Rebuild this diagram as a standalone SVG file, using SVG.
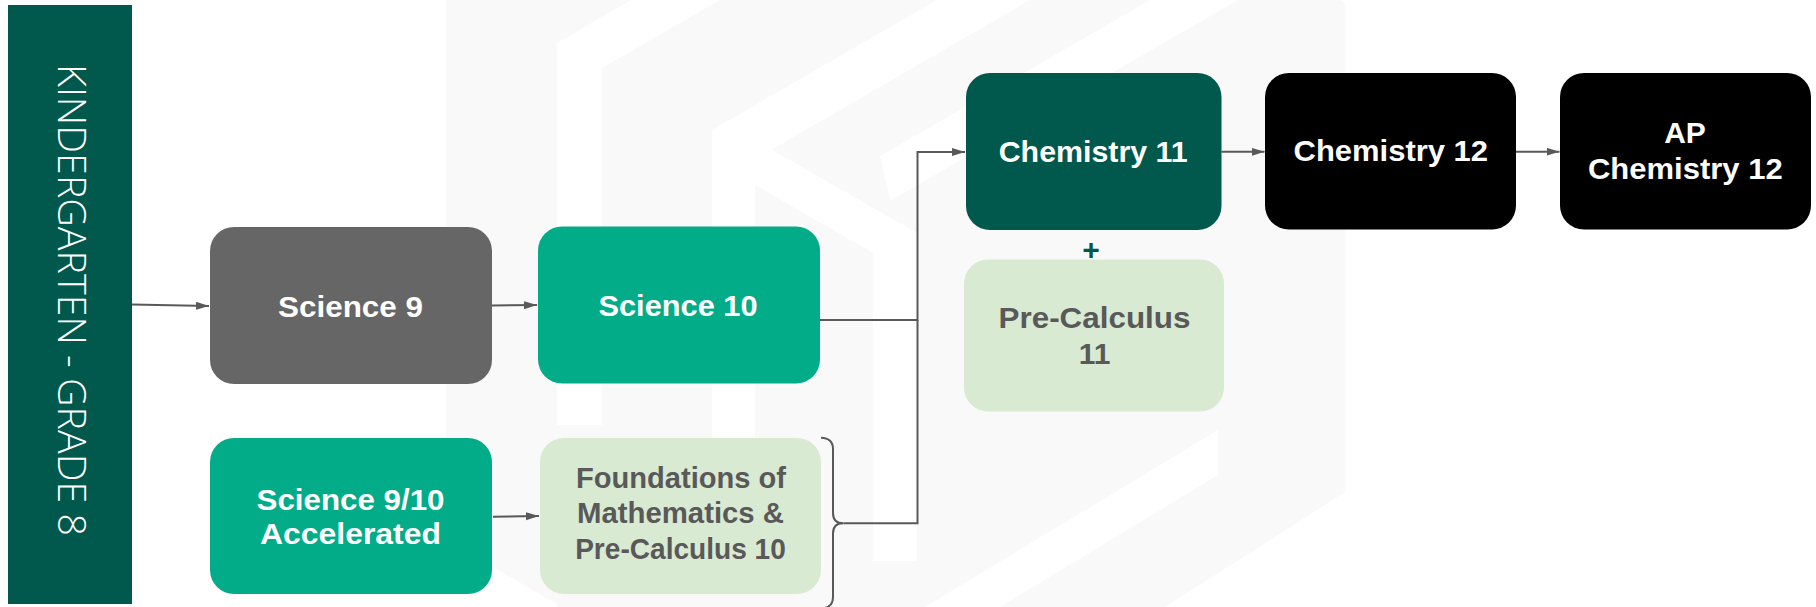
<svg xmlns="http://www.w3.org/2000/svg" width="1816" height="607" viewBox="0 0 1816 607">
<defs>
<marker id="arr" markerUnits="userSpaceOnUse" markerWidth="14" markerHeight="10" refX="13" refY="4" orient="auto">
<path d="M0,0 L13,4 L0,8 Z" fill="#595959"/>
</marker>
</defs>
<style>
.t{font-family:"Liberation Sans",Arial,sans-serif;font-weight:700;font-size:30px;text-anchor:middle}
.w{fill:#ffffff}
.g{fill:#595959}
.c{fill:none;stroke:#595959;stroke-width:2}
.wm{fill:#f9f9f9}
.wb{fill:#ffffff}
</style>
<rect width="1816" height="607" fill="#ffffff"/>
<g id="watermark">
<path class="wm" d="M446,0 H1338 Q1345,0 1345,8 V492 L1165,607 H446 Z"/>
<path class="wb" d="M557,425 V43 L631,0 H720 L602,68 V425 Z"/>
<path class="wb" d="M712,557 V130 L937,0 H1030 L783,143 L755,160 V557 Z"/>
<path class="wb" d="M755,140 L917,233 V561 H873 V253 L755,185 Z"/>
<path class="wb" d="M890,201 L1238,0 H1150 L880,156 Z"/>
<path class="wb" d="M1218,430 V475 L1000,607 H925 Z"/>
<path class="wb" d="M446,540 L557,604 V607 H446 Z"/>
</g>
<g id="bar">
<rect x="8" y="5" width="124" height="599" fill="#00594c"/>
<text transform="translate(58,300) rotate(90)" font-family="'Open Sans','Liberation Sans',sans-serif" font-weight="300" font-size="39" fill="#ffffff" text-anchor="middle" textLength="472" lengthAdjust="spacingAndGlyphs">KINDERGARTEN - GRADE 8</text>
</g>
<g id="connectors">
<path class="c" d="M132,304.5 L209,306" marker-end="url(#arr)"/>
<path class="c" d="M492,305.5 L537,305" marker-end="url(#arr)"/>
<path class="c" d="M493,516.8 L539,516" marker-end="url(#arr)"/>
<path class="c" d="M820,320 H917.5 V152 H965" marker-end="url(#arr)"/>
<path class="c" d="M843.3,523.3 H917.5 V320"/>
<path class="c" d="M821,437.7 Q833,438 833,449 V513 Q833,523.3 843.3,523.3 Q833,523.3 833,533.6 V597 Q833,608 821,608.5"/>
<path class="c" d="M1221.5,151.8 H1264.5" marker-end="url(#arr)"/>
<path class="c" d="M1516,151.7 H1559.5" marker-end="url(#arr)"/>
</g>
<g id="science9">
<rect x="210" y="227" width="282" height="157" rx="24" fill="#666666"/>
<text class="t w" x="350.5" y="316.7" textLength="145" lengthAdjust="spacingAndGlyphs">Science 9</text>
</g>
<g id="science10">
<rect x="538" y="226.5" width="282" height="157" rx="24" fill="#03ac89"/>
<text class="t w" x="678" y="315.5" textLength="159" lengthAdjust="spacingAndGlyphs">Science 10</text>
</g>
<g id="science910acc">
<rect x="210" y="438" width="282" height="156" rx="24" fill="#03ac89"/>
<text class="t w" x="350.5" y="509.5" textLength="188" lengthAdjust="spacingAndGlyphs">Science 9/10</text>
<text class="t w" x="350.5" y="544" textLength="181" lengthAdjust="spacingAndGlyphs">Accelerated</text>
</g>
<g id="foundations">
<rect x="540" y="438" width="281" height="156" rx="24" fill="#d9ead3"/>
<text class="t g" x="681" y="487.8" textLength="210" lengthAdjust="spacingAndGlyphs">Foundations of</text>
<text class="t g" x="680.5" y="523.4" textLength="207" lengthAdjust="spacingAndGlyphs">Mathematics &amp;</text>
<text class="t g" x="680.5" y="559.4" textLength="210.7" lengthAdjust="spacingAndGlyphs">Pre-Calculus 10</text>
</g>
<g id="chemistry11">
<rect x="966" y="73" width="255.5" height="157" rx="24" fill="#00594c"/>
<text class="t w" x="1093.2" y="162" textLength="189" lengthAdjust="spacingAndGlyphs">Chemistry 11</text>
</g>
<g id="plus">
<text class="t" x="1091" y="260" font-size="30" fill="#00594c">+</text>
</g>
<g id="precalc11">
<rect x="964" y="259.5" width="260" height="152" rx="24" fill="#d9ead3"/>
<text class="t g" x="1094.5" y="328" textLength="192" lengthAdjust="spacingAndGlyphs">Pre-Calculus</text>
<text class="t g" x="1094.5" y="364">11</text>
</g>
<g id="chemistry12">
<rect x="1265" y="73" width="251" height="156.5" rx="24" fill="#000000"/>
<text class="t w" x="1390.8" y="161" textLength="194.5" lengthAdjust="spacingAndGlyphs">Chemistry 12</text>
</g>
<g id="apchemistry12">
<rect x="1560" y="73" width="251" height="156.5" rx="24" fill="#000000"/>
<text class="t w" x="1685" y="142.7">AP</text>
<text class="t w" x="1685.3" y="179.3" textLength="194.7" lengthAdjust="spacingAndGlyphs">Chemistry 12</text>
</g>
</svg>
